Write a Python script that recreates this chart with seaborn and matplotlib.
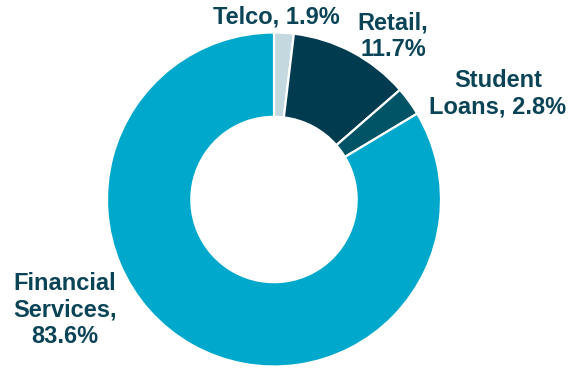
import matplotlib
matplotlib.use("Agg")
import matplotlib.pyplot as plt
import seaborn as sns

segments = ["Telco", "Retail", "Student\nLoans", "Financial\nServices"]
shares = [1.9, 11.7, 2.8, 83.6]
colors = ["#C3D8DF", "#003B4F", "#005465", "#00A8CC"]
label_formats = ["{}, {:.1f}%", "{},\n{:.1f}%", "{}, {:.1f}%", "{},\n{:.1f}%"]

sns.set_theme(style="white")
plt.rcParams["font.family"] = ["Liberation Sans", "DejaVu Sans"]

W, H = 568, 369
fig = plt.figure(figsize=(W / 100, H / 100), dpi=100)
ax = fig.add_axes([0, 0, 1, 1])

cx, cy, r = 274, H - 199.5, 167
ax.pie(shares, colors=colors, startangle=90, counterclock=False,
       center=(cx, cy), radius=r, frame=True,
       wedgeprops=dict(width=r * 0.505, edgecolor="white", linewidth=1.6))
ax.set_xlim(0, W)
ax.set_ylim(0, H)
ax.set_aspect("equal")
ax.axis("off")

label_pos = [(276, 17), (393, 36), (498, 94), (65, 310)]
text_color = "#0B4457"
for name, val, fmt, (x, y) in zip(segments, shares, label_formats, label_pos):
    ax.text(x, H - y, fmt.format(name, val), ha="center", va="center",
            fontsize=17, fontweight="bold", color=text_color, linespacing=1.17)

fig.savefig("out.png", dpi=100)
